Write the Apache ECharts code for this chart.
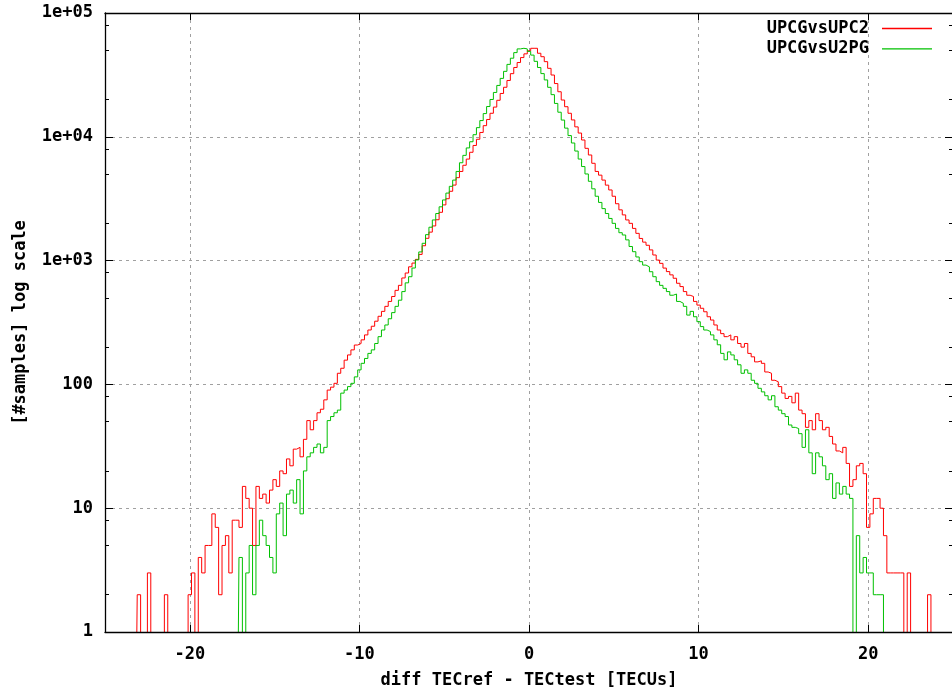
<!DOCTYPE html>
<html><head><meta charset="utf-8">
<script src="https://cdn.jsdelivr.net/npm/echarts@6/dist/echarts.min.js"></script>
<style>html,body{margin:0;padding:0;background:#fff;} #c{width:952px;height:696px;}</style>
</head><body><div id="c"></div>
<script>
// Histogram bins: centre of first bin and bin width (TECU)
const BIN_START = -24.0;
const BIN_WIDTH = 0.2;
const seriesNames = ['UPCGvsUPC2', 'UPCGvsU2PG'];
// counts per bin (0 = empty bin, not drawable on a log axis)
const upcgVsUpc2 = [
 0,0,0,0,0,2,0,0,3,0,
 0,0,0,2,0,0,0,0,0,0,
 2,3,0,4,3,5,5,9,7,2,
 5,6,3,8,8,7,15,12,10,5,
 15,12,13,11,14,17,15,20,19,25,
 22,30,31,26,36,51,43,51,59,63,
 75,90,95,102,123,135,157,173,190,208,
 214,229,251,275,295,324,355,389,427,468,
 513,575,631,724,794,891,955,1023,1122,1318,
 1514,1698,1905,2138,2455,2818,3162,3631,4074,4677,
 5248,5888,6607,7499,8511,9550,10840,12300,13800,15490,
 17380,19720,22390,25120,28510,32360,36310,39810,43650,46770,
 49550,51880,51880,47300,44360,40460,35730,31550,26920,23120,
 19820,17500,15490,13680,12030,10720,9420,8070,7130,6110,
 5250,4900,4470,4070,3720,3310,2880,2570,2340,2130,
 2000,1820,1660,1510,1410,1330,1220,1110,1010,950,
 870,815,767,720,656,617,562,525,513,468,
 437,412,386,352,331,302,275,257,243,251,
 229,243,214,200,214,178,167,152,155,148,
 126,123,108,105,96,85,77,80,71,85,
 62,58,45,51,43,58,51,43,45,38,
 33,29,28,31,23,15,17,22,23,19,
 7,9,12,12,10,6,3,3,3,3,
 3,0,3,0,0,0,0,0,2,0,
 0
];
const upcgVsU2pg = [
 0,0,0,0,0,0,0,0,0,0,
 0,0,0,0,0,0,0,0,0,0,
 0,0,0,0,0,0,0,0,0,0,
 0,0,0,0,0,4,0,3,5,2,
 5,8,6,5,4,3,9,11,6,13,
 14,11,17,9,20,26,28,31,33,28,
 31,51,55,59,62,85,90,96,102,115,
 131,148,162,178,190,214,243,275,302,339,
 380,427,479,562,661,741,871,1012,1175,1380,
 1620,1860,2130,2400,2720,3090,3510,3980,4470,5250,
 6170,7080,8130,9120,10400,11860,13520,15400,17560,20020,
 22820,26000,29640,33790,38460,43150,47860,51290,51880,51290,
 48980,45700,40700,36300,32400,28800,25100,21900,18600,15800,
 13650,11750,10230,8910,7670,6610,5750,5010,4370,3800,
 3310,2950,2630,2400,2190,2000,1820,1680,1610,1470,
 1300,1180,1070,980,920,890,813,741,676,631,
 597,562,525,537,468,452,427,363,389,352,
 321,293,275,267,251,229,209,178,158,183,
 173,158,144,123,131,123,108,102,93,87,
 81,75,81,66,62,58,55,47,45,44,
 40,31,43,28,19,28,26,22,17,19,
 12,16,13,15,13,12,0,6,3,4,
 3,3,2,2,2,0,0,0,0,0,
 0,0,0,0,0,0,0,0,0,0,
 0
];
const X_MIN = -25, X_MAX = 25;
const xTickValues = [-20, -10, 0, 10, 20];
const Y_MIN = 1, Y_MAX = 100000;
const yTickLabels = ['1', '10', '100', '1e+03', '1e+04', '1e+05'];
const yMinorMantissas = [2, 5, 8];
const xTitle = 'diff TECref - TECtest [TECUs]';
const yTitle = '[#samples] log scale';

// empty bins fall below the log axis (like gnuplot), clipped by the grid
const toPairs = arr => arr.map((v, i) => [+(BIN_START + i * BIN_WIDTH).toFixed(1), v > 0 ? v : Y_MIN / 10]);
const minorExp = [];
for (let k = 0; k < 5; k++) yMinorMantissas.forEach(m => minorExp.push(k + Math.log10(m)));

const FONT = { fontFamily: '"DejaVu Sans Mono", monospace', fontWeight: 'bold', fontSize: 17, color: '#000' };
const dashed = { show: true, lineStyle: { color: '#a0a0a0', width: 1, type: [3, 4] } };
const blackLine = { show: true, onZero: false, lineStyle: { color: '#000', width: 1.3 } };
const noLine = { show: false, onZero: false };

const chart = echarts.init(document.getElementById('c'), null, { renderer: 'canvas' });
const xBase = { type: 'value', min: X_MIN, max: X_MAX, gridIndex: 0 };
const yBase = { type: 'log', min: Y_MIN, max: Y_MAX, logBase: 10, gridIndex: 0 };
chart.setOption({
  animation: false,
  backgroundColor: '#fff',
  grid: { left: 105, top: 13, width: 848, height: 619, containLabel: false, outerBoundsMode: 'none' },
  legend: {
    orient: 'vertical', right: 20, top: 20, align: 'right', padding: 0,
    icon: 'rect', itemWidth: 50, itemHeight: 1.3, itemGap: 3.4,
    data: seriesNames,
    textStyle: Object.assign({}, FONT, { padding: [0, 8, 0, 0] })
  },
  xAxis: [
    Object.assign({}, xBase, { position: 'bottom', axisLine: noLine,
      axisTick: { show: false, customValues: xTickValues }, axisLabel: { show: false }, splitLine: dashed }),
    Object.assign({}, xBase, { position: 'bottom', z: 10, axisLine: blackLine,
      axisTick: { show: true, inside: true, length: 7, customValues: xTickValues, lineStyle: { color: '#000' } },
      axisLabel: Object.assign({ margin: 14, customValues: xTickValues }, FONT), splitLine: { show: false },
      name: xTitle, nameLocation: 'middle', nameGap: 40, nameTextStyle: FONT }),
    Object.assign({}, xBase, { position: 'top', z: 10, axisLine: blackLine,
      axisTick: { show: true, inside: true, length: 7, customValues: xTickValues, lineStyle: { color: '#000' } },
      axisLabel: { show: false }, splitLine: { show: false } })
  ],
  yAxis: [
    Object.assign({}, yBase, { position: 'left', axisLine: noLine, axisTick: { show: false }, axisLabel: { show: false }, splitLine: dashed }),
    Object.assign({}, yBase, { position: 'left', z: 10, axisLine: blackLine,
      axisTick: { show: true, inside: true, length: 8, lineStyle: { color: '#000' } },
      axisLabel: Object.assign({ margin: 12, formatter: v => yTickLabels[Math.round(Math.log10(v))] }, FONT),
      splitLine: { show: false },
      name: yTitle, nameLocation: 'middle', nameGap: 76, nameTextStyle: FONT }),
    Object.assign({}, yBase, { position: 'right', z: 10, axisLine: blackLine,
      axisTick: { show: true, inside: true, length: 8, lineStyle: { color: '#000' } },
      axisLabel: { show: false }, splitLine: { show: false } }),
    { type: 'value', min: 0, max: 5, position: 'left', z: 10, axisLine: noLine,
      axisTick: { show: true, inside: true, length: 4, customValues: minorExp, lineStyle: { color: '#000' } },
      axisLabel: { show: false }, splitLine: { show: false } },
    { type: 'value', min: 0, max: 5, position: 'right', z: 10, axisLine: noLine,
      axisTick: { show: true, inside: true, length: 4, customValues: minorExp, lineStyle: { color: '#000' } },
      axisLabel: { show: false }, splitLine: { show: false } }
  ],
  series: [
    { name: seriesNames[0], type: 'line', step: 'middle', xAxisIndex: 0, yAxisIndex: 0,
      data: toPairs(upcgVsUpc2), symbol: 'none', showSymbol: false, silent: true, clip: true,
      color: '#ff0000', lineStyle: { color: '#ff0000', width: 1 }, z: 3 },
    { name: seriesNames[1], type: 'line', step: 'middle', xAxisIndex: 0, yAxisIndex: 0,
      data: toPairs(upcgVsU2pg), symbol: 'none', showSymbol: false, silent: true, clip: true,
      color: '#00c000', lineStyle: { color: '#00c000', width: 1 }, z: 4 }
  ]
});
</script>
</body></html>
